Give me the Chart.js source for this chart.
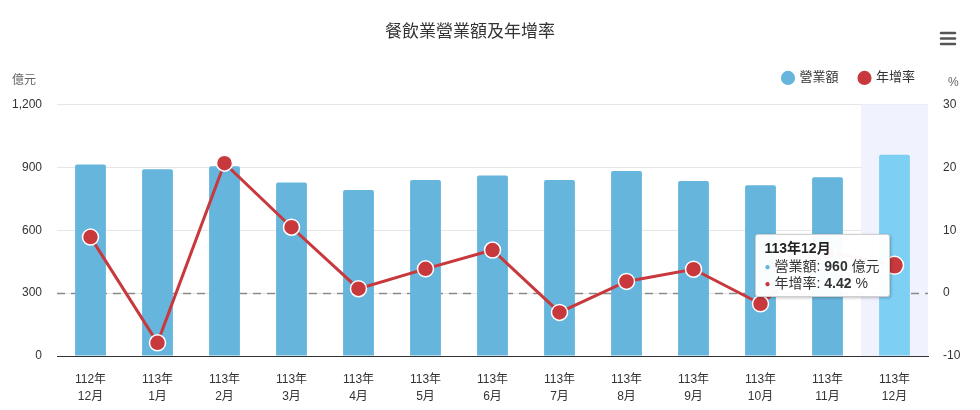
<!DOCTYPE html>
<html>
<head>
<meta charset="utf-8">
<script src="https://cdn.jsdelivr.net/npm/chart.js@4.4.1/dist/chart.umd.min.js"></script>
<style>
    body { margin: 0; background: #fff; }
    #wrap { position: relative; width: 980px; height: 410px; }
    #tip {
        position: absolute;
        background: rgba(255,255,255,0.97);
        border: 1px solid #cfcfcf;
        border-radius: 3px;
        box-shadow: 1px 1px 3px rgba(0,0,0,0.25);
        padding: 4px 9px 4px 9px;
        font-family: 'Liberation Sans', 'Noto Sans CJK TC', sans-serif;
        font-size: 14px;
        color: #333;
        line-height: 17px;
        white-space: nowrap;
    }
    #tip .t { font-weight: bold; font-size: 14px; line-height: 19px; color: #222; }
    #tip .d { font-size: 10px; vertical-align: 1px; margin-right: 4px; }
</style>
</head>
<body>
<div id="wrap">
    <canvas id="myChart"></canvas>
    <div id="tip"></div>
</div>
<script>
// categories: year / month
var months = [
    ['112年', '12月'], ['113年', '1月'], ['113年', '2月'], ['113年', '3月'],
    ['113年', '4月'], ['113年', '5月'], ['113年', '6月'], ['113年', '7月'],
    ['113年', '8月'], ['113年', '9月'], ['113年', '10月'], ['113年', '11月'],
    ['113年', '12月']
];

// 營業額 (億元)
var revenue = [913, 891, 905, 827, 792, 839, 861, 839, 882, 835, 814, 853, 960];

// 年增率 (%)
var growth = [8.9, -7.9, 20.66, 10.47, 0.7, 3.86, 6.85, -3.07, 1.86, 3.8, -1.7, 6.5, 4.42];

// axis ticks
var leftTicks = [0, 300, 600, 900, 1200];
var rightTicks = [-10, 0, 10, 20, 30];

var hoverIndex = 12;

var barColor = '#66b5dc';
var barHover = '#7ecff4';
var lineColor = '#c8393e';
var fontFamily = "'Liberation Sans', 'Noto Sans CJK TC', sans-serif";

Chart.defaults.font.family = fontFamily;
Chart.defaults.color = '#333';

//html tooltip so the values can be bold
function renderTip(context) {
    var chart = context.chart;
    var tooltip = context.tooltip;
    var el = document.getElementById('tip');
    if (tooltip.opacity === 0 || !tooltip.dataPoints || !tooltip.dataPoints.length) {
        el.style.display = 'none';
        return;
    }
    var i = tooltip.dataPoints[0].dataIndex;
    el.style.display = 'block';
    el.innerHTML = '<div class="t">' + months[i].join('') + '</div>' +
        '<div><span class="d" style="color:' + barColor + '">●</span>營業額: <b>' + revenue[i] + '</b> 億元</div>' +
        '<div><span class="d" style="color:' + lineColor + '">●</span>年增率: <b>' + growth[i].toFixed(2) + '</b> %</div>';
    var pt = chart.getDatasetMeta(0).data[i];
    el.style.left = (pt.x - el.offsetWidth - 5) + 'px';
    el.style.top = (pt.y - 31) + 'px';
}

var extras = {
    id: 'extras',
    beforeLayout: function(chart) {
        if (chart.legend && !chart.legend._wrapped) {
            var fit = chart.legend.fit;
            chart.legend.fit = function() {
                fit.call(this);
                this.height += 10;
            };
            chart.legend._wrapped = true;
        }
    },
    afterLayout: function(chart) {
        chart.titleBlock.right -= 40;
        chart.legend.right -= 44;
    },
    beforeDatasetsDraw: function(chart) {
        var ctx = chart.ctx;
        var area = chart.chartArea;
        var x = chart.scales.x;
        var y1 = chart.scales.y1;

        // highlighted category band
        var w = x.getPixelForValue(1) - x.getPixelForValue(0);
        var cx = x.getPixelForValue(hoverIndex);
        ctx.save();
        ctx.fillStyle = '#f0f2fd';
        ctx.fillRect(cx - w / 2, area.top, w, area.bottom - area.top);

        // zero growth line
        var zy = Math.round(y1.getPixelForValue(0)) + 0.5;
        ctx.strokeStyle = '#8a8a8a';
        ctx.lineWidth = 1.5;
        ctx.setLineDash([8, 6]);
        ctx.beginPath();
        ctx.moveTo(area.left, zy);
        ctx.lineTo(area.right, zy);
        ctx.stroke();
        ctx.restore();
    },
    afterDraw: function(chart) {
        var ctx = chart.ctx;
        var area = chart.chartArea;
        ctx.save();
        ctx.font = '12px ' + fontFamily;
        ctx.fillStyle = '#666';
        ctx.textBaseline = 'middle';
        ctx.textAlign = 'left';
        ctx.fillText('億元', 12, area.top - 24);
        ctx.fillText('%', 948, area.top - 22);

        // menu button
        ctx.strokeStyle = '#555';
        ctx.lineWidth = 2.5;
        ctx.lineCap = 'round';
        [33, 38.5, 44].forEach(function(yy) {
            ctx.beginPath();
            ctx.moveTo(941, yy);
            ctx.lineTo(955, yy);
            ctx.stroke();
        });
        ctx.restore();
    }
};

var ctx = document.getElementById('myChart');
var myChart = new Chart(ctx, {
    type: 'bar',
    data: {
        labels: months,
        datasets: [
            {
                type: 'line',
                label: '年增率',
                data: growth,
                yAxisID: 'y1',
                borderColor: lineColor,
                backgroundColor: lineColor,
                borderWidth: 3,
                tension: 0,
                pointStyle: 'circle',
                pointRadius: 8,
                pointBackgroundColor: lineColor,
                pointBorderColor: '#fff',
                pointBorderWidth: 1.5,
                pointHoverRadius: 9,
                pointHoverBackgroundColor: lineColor,
                pointHoverBorderColor: '#fff',
                pointHoverBorderWidth: 1.5
            },
            {
                type: 'bar',
                label: '營業額',
                data: revenue,
                yAxisID: 'y',
                backgroundColor: barColor,
                hoverBackgroundColor: barHover,
                borderWidth: 0,
                borderRadius: 2,
                categoryPercentage: 1,
                barPercentage: 0.46,
                pointStyle: 'circle'
            }
        ]
    },
    options: {
        responsive: true,
        maintainAspectRatio: false,
        animation: false,
        events: [],
        locale: 'en-US',
        layout: { padding: 0 },
        plugins: {
            title: {
                display: true,
                text: '餐飲業營業額及年增率',
                color: '#333',
                font: { size: 17, weight: 'normal' },
                padding: { top: 22, bottom: 8 }
            },
            legend: {
                display: true,
                align: 'end',
                labels: {
                    usePointStyle: true,
                    boxWidth: 10,
                    boxHeight: 10,
                    padding: 21,
                    color: '#333',
                    font: { size: 13 },
                    sort: function(a, b) { return b.datasetIndex - a.datasetIndex; },
                    generateLabels: function(chart) {
                        var items = Chart.defaults.plugins.legend.labels.generateLabels(chart);
                        items.forEach(function(it) {
                            it.lineWidth = 0;
                            it.fillStyle = it.datasetIndex === 0 ? lineColor : barColor;
                        });
                        return items;
                    }
                }
            },
            tooltip: {
                enabled: false,
                mode: 'index',
                intersect: false,
                external: renderTip
            }
        },
        scales: {
            x: {
                offset: true,
                grid: { drawOnChartArea: false, drawTicks: false },
                border: { display: true, color: '#333', width: 1 },
                ticks: {
                    color: '#333',
                    font: { size: 12, lineHeight: 1.4 },
                    padding: 15,
                    maxRotation: 0,
                    autoSkip: false
                },
                afterFit: function(scale) { scale.height = 54; }
            },
            y: {
                position: 'left',
                min: leftTicks[0],
                max: leftTicks[leftTicks.length - 1],
                grid: { color: '#e6e6e6', drawTicks: false },
                border: { display: false },
                ticks: {
                    stepSize: leftTicks[1] - leftTicks[0],
                    color: '#333',
                    font: { size: 12 },
                    padding: 15
                },
                afterFit: function(scale) { scale.width = 57; }
            },
            y1: {
                position: 'right',
                min: rightTicks[0],
                max: rightTicks[rightTicks.length - 1],
                grid: { drawOnChartArea: false, drawTicks: false },
                border: { display: false },
                ticks: {
                    stepSize: rightTicks[1] - rightTicks[0],
                    color: '#333',
                    font: { size: 12 },
                    padding: 15
                },
                afterFit: function(scale) { scale.width = 52; }
            }
        }
    },
    plugins: [extras]
});

// show the hover state of the last month like in the original
var active = [{ datasetIndex: 0, index: hoverIndex }, { datasetIndex: 1, index: hoverIndex }];
myChart.setActiveElements(active);
myChart.tooltip.setActiveElements(active, { x: 0, y: 0 });
myChart.update();
</script>
</body>
</html>
